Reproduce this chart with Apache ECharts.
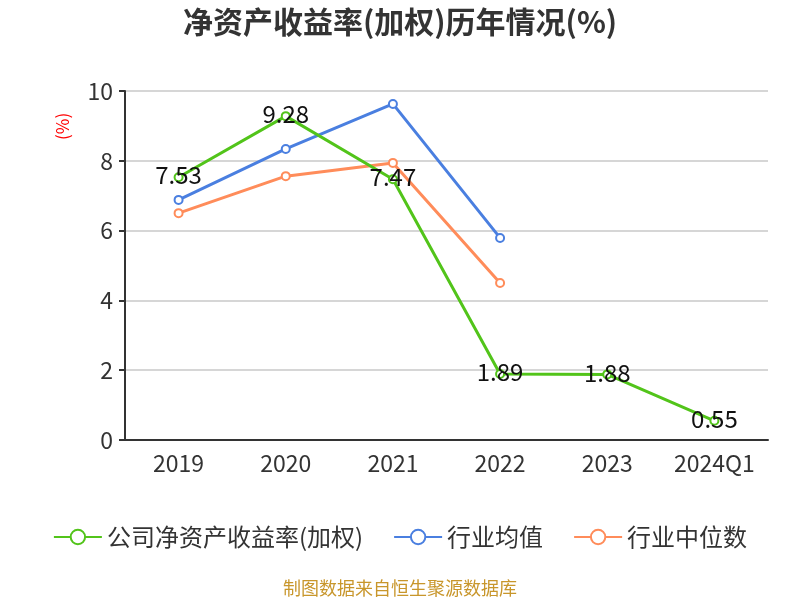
<!DOCTYPE html>
<html><head><meta charset="utf-8">
<script src="https://cdn.jsdelivr.net/npm/echarts@6/dist/echarts.min.js"></script>
<style>html,body{margin:0;padding:0;background:#fff}#c{width:800px;height:600px}</style>
</head><body><div id="c"></div>
<script>
const categories = ['2019','2020','2021','2022','2023','2024Q1'];
const companyRoe = [7.53, 9.28, 7.47, 1.89, 1.88, 0.55];
const industryAvg = [6.88, 8.34, 9.63, 5.79, null, null];
const industryMedian = [6.50, 7.56, 7.94, 4.50, null, null];
const yTicks = [0, 2, 4, 6, 8, 10];

const chart = echarts.init(document.getElementById('c'));
const font = 'Microsoft YaHei, "Noto Sans CJK SC", sans-serif';
chart.setOption({
  animation: false,
  textStyle: {fontFamily: font},
  title: {
    text: '净资产收益率(加权)历年情况(%)', left: 'center', top: 2,
    textStyle: {fontSize: 30, fontWeight: 'bold', color: '#333', fontFamily: font}
  },
  graphic: [{
    type: 'text', left: 'center', top: 579,
    style: {text: '制图数据来自恒生聚源数据库', fill: '#c8962b', fontSize: 18, fontFamily: font}
  }, {
    type: 'text', x: 54, y: 140, rotation: Math.PI / 2,
    style: {text: '(%)', fill: '#f00', fontSize: 17, fontFamily: font, align: 'left', verticalAlign: 'top'}
  }],
  legend: {
    bottom: 46, left: 'center', itemWidth: 48, itemHeight: 18, itemGap: 30,
    textStyle: {fontSize: 24, color: '#333', fontFamily: font},
    data: ['公司净资产收益率(加权)', '行业均值', '行业中位数']
  },
  grid: {left: 125, right: 32, top: 91, bottom: 160},
  xAxis: {
    type: 'category', data: categories, boundaryGap: true,
    axisLine: {lineStyle: {color: '#333', width: 2}},
    axisTick: {length: 6, lineStyle: {color: '#333', width: 2}},
    axisLabel: {fontSize: 23, color: '#333', margin: 12}
  },
  yAxis: {
    type: 'value', min: yTicks[0], max: yTicks[yTicks.length - 1], interval: 2,
    axisLine: {show: true, lineStyle: {color: '#333', width: 2}},
    axisTick: {show: true, length: 6, lineStyle: {color: '#333', width: 2}},
    axisLabel: {fontSize: 23, color: '#333', margin: 12},
    splitLine: {lineStyle: {color: '#c8c8c8', width: 1.5}}
  },
  series: [
    {
      name: '公司净资产收益率(加权)', type: 'line', data: companyRoe,
      symbol: 'emptyCircle', symbolSize: 8, z: 3,
      itemStyle: {color: '#52c41a'}, lineStyle: {width: 3, color: '#52c41a'},
      label: {show: true, position: 'inside', offset: [0, -2], fontSize: 24, color: '#111'}
    },
    {
      name: '行业均值', type: 'line', data: industryAvg,
      symbol: 'emptyCircle', symbolSize: 8, z: 2,
      itemStyle: {color: '#4a7fe0'}, lineStyle: {width: 3, color: '#4a7fe0'}
    },
    {
      name: '行业中位数', type: 'line', data: industryMedian,
      symbol: 'emptyCircle', symbolSize: 8, z: 2,
      itemStyle: {color: '#ff8c5a'}, lineStyle: {width: 3, color: '#ff8c5a'}
    }
  ]
});
</script></body></html>
